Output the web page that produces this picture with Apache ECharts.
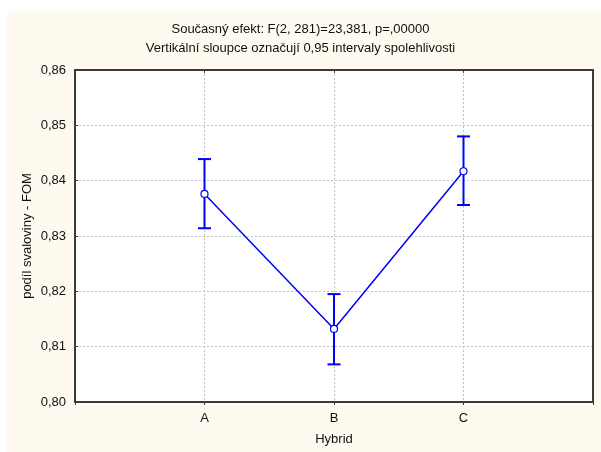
<!DOCTYPE html>
<html>
<head>
<meta charset="utf-8">
<script src="https://cdn.jsdelivr.net/npm/echarts@6/dist/echarts.min.js"></script>
<style>
  html, body { margin: 0; padding: 0; background: #ffffff; }
  #chart { width: 601px; height: 452px; }
</style>
</head>
<body>
<div id="chart"></div>
<script>
// Hybrid means of muscle proportion with 0.95 confidence intervals
const hybrids = ['A', 'B', 'C'];
const means = [0.8376, 0.8132, 0.8417];
const lower = [0.8314, 0.8068, 0.8356];
const upper = [0.8439, 0.8195, 0.8480];
const yTicks = [0.80, 0.81, 0.82, 0.83, 0.84, 0.85, 0.86];

const FONT = 'Liberation Sans, Arial, sans-serif';
const FS = 13;
const BLUE = '#0000ff';
const FRAME = '#3a3a3a';
const TEXT = '#111111';

// x positions: hybrids sit at 1..n on a 0..n+1 axis
const meanData = means.map((m, i) => [i + 1, m]);
const barData = hybrids.map((h, i) => [i + 1, lower[i], upper[i]]);

const yMin = yTicks[0];
const yMax = yTicks[yTicks.length - 1];
const xMax = hybrids.length + 1;
const gridLine = { show: true, lineStyle: { color: '#c2c2c2', type: [2, 2], width: 1 } };

const chart = echarts.init(document.getElementById('chart'), null, { renderer: 'canvas' });

chart.setOption({
  backgroundColor: '#ffffff',
  animation: false,
  graphic: [{
    type: 'rect',
    z: -10,
    shape: { x: 7, y: 11, width: 601, height: 452 },
    style: { fill: '#fffaf0' },
    silent: true
  }],
  title: {
    text: 'Současný efekt: F(2, 281)=23,381, p=,00000',
    subtext: 'Vertikální sloupce označují 0,95 intervaly spolehlivosti',
    left: 'center',
    top: 16,
    itemGap: 3,
    textStyle: { fontFamily: FONT, fontSize: FS, fontWeight: 'normal', color: TEXT, lineHeight: 16 },
    subtextStyle: { fontFamily: FONT, fontSize: FS, color: TEXT, lineHeight: 16 }
  },
  grid: {
    left: 75, right: 8, top: 70, bottom: 50,
    show: true,
    backgroundColor: '#ffffff',
    borderWidth: 0
  },
  xAxis: [
    {
      type: 'value',
      position: 'bottom',
      min: 0, max: xMax, interval: 1,
      name: 'Hybrid',
      nameLocation: 'middle',
      nameGap: 31,
      nameMoveOverlap: false,
      nameTextStyle: { fontFamily: FONT, fontSize: FS, color: TEXT },
      axisLine: { show: true, lineStyle: { color: FRAME, width: 2 } },
      axisTick: { show: true, length: 3, lineStyle: { color: FRAME } },
      axisLabel: {
        fontFamily: FONT, fontSize: FS, color: TEXT, margin: 10,
        formatter: v => hybrids[v - 1] || ''
      },
      splitLine: gridLine
    },
    {
      // frame along the top edge
      type: 'value',
      position: 'top',
      min: 0, max: xMax, interval: 1,
      axisLine: { show: true, onZero: false, lineStyle: { color: FRAME, width: 2 } },
      axisTick: { show: true, inside: true, length: 3, lineStyle: { color: FRAME } },
      axisLabel: { show: false },
      splitLine: { show: false }
    }
  ],
  yAxis: [
    {
      type: 'value',
      position: 'left',
      min: yMin, max: yMax, interval: 0.01,
      name: 'podíl svaloviny - FOM',
      nameLocation: 'middle',
      nameGap: 41,
      nameMoveOverlap: false,
      nameTextStyle: { fontFamily: FONT, fontSize: FS, color: TEXT },
      axisLine: { show: true, lineStyle: { color: FRAME, width: 2 } },
      axisTick: { show: true, inside: true, length: 3, lineStyle: { color: FRAME } },
      axisLabel: {
        fontFamily: FONT, fontSize: FS, color: TEXT, margin: 9,
        formatter: v => v.toFixed(2).replace('.', ',')
      },
      splitLine: gridLine
    },
    {
      // frame along the right edge
      type: 'value',
      position: 'right',
      min: yMin, max: yMax, interval: 0.01,
      axisLine: { show: true, onZero: false, lineStyle: { color: FRAME, width: 2 } },
      axisTick: { show: false },
      axisLabel: { show: false },
      splitLine: { show: false }
    }
  ],
  series: [
    {
      type: 'custom',
      data: barData,
      z: 3,
      renderItem: (params, api) => {
        const x = api.value(0);
        const lo = api.coord([x, api.value(1)]);
        const hi = api.coord([x, api.value(2)]);
        const hw = 6.5;
        const style = { stroke: BLUE, lineWidth: 2 };
        return {
          type: 'group',
          children: [
            { type: 'line', shape: { x1: lo[0], y1: lo[1], x2: hi[0], y2: hi[1] }, style },
            { type: 'line', shape: { x1: hi[0] - hw, y1: hi[1], x2: hi[0] + hw, y2: hi[1] }, style },
            { type: 'line', shape: { x1: lo[0] - hw, y1: lo[1], x2: lo[0] + hw, y2: lo[1] }, style }
          ]
        };
      }
    },
    {
      type: 'line',
      data: meanData,
      z: 5,
      symbol: 'circle',
      symbolSize: 7,
      lineStyle: { color: BLUE, width: 1.5 },
      itemStyle: { color: '#ffffff', borderColor: BLUE, borderWidth: 1.2 }
    }
  ]
});
</script>
</body>
</html>
